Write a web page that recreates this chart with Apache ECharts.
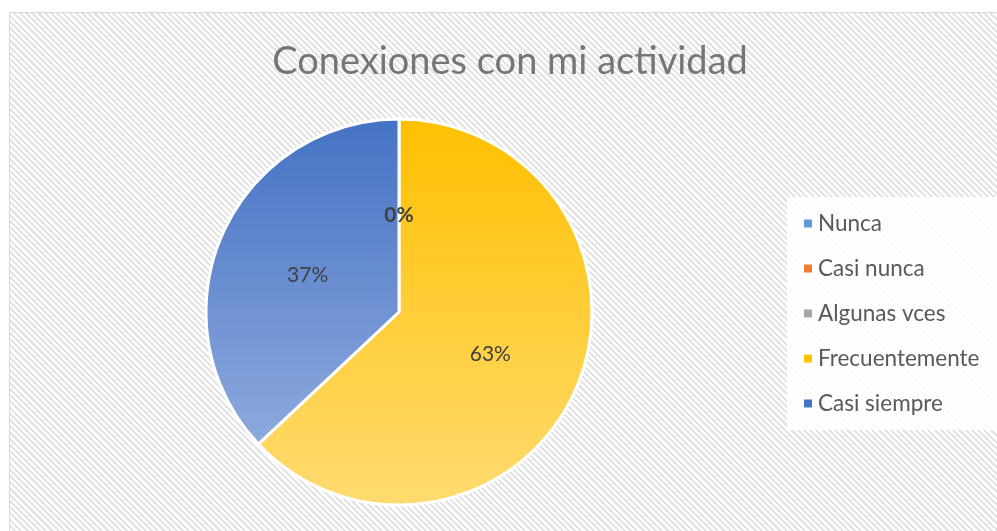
<!DOCTYPE html>
<html>
<head>
<meta charset="utf-8">
<script src="https://cdn.jsdelivr.net/npm/echarts@6/dist/echarts.min.js"></script>
<style>
html, body {
  margin: 0;
  padding: 0;
  background: #ffffff;
}
#frame {
  position: absolute;
  left: 9px;
  top: 12px;
  width: 1000px;
  height: 530px;
  border: 1px solid #d9d9d9;
  background: repeating-linear-gradient(45deg, #ffffff 0px, #ffffff 2.2px, #e4e4e4 2.2px, #e4e4e4 4.4px);
}
#main {
  position: absolute;
  left: 0;
  top: 0;
  width: 997px;
  height: 531px;
}
</style>
</head>
<body>
<div id="frame"></div>
<div id="main"></div>
<script>
// datos del grafico
const categories = ["Nunca", "Casi nunca", "Algunas vces", "Frecuentemente", "Casi siempre"];
const values = [0, 0, 0, 63, 37];
const colors = ["#5b9bd5", "#ed7d31", "#a5a5a5", "#ffc000", "#4472c4"];
const lightColors = ["#9dc3e6", "#f4b183", "#c9c9c9", "#ffdb70", "#9bb4e2"];

const cx = 399, cy = 312, r = 193;

function grad(i) {
  // degradado vertical sobre todo el circulo
  return new echarts.graphic.LinearGradient(0, cy - r, 0, cy + r, [
    { offset: 0, color: colors[i] },
    { offset: 1, color: lightColors[i] }
  ], true);
}

let chart = echarts.init(document.getElementById("main"));
chart.setOption({
  backgroundColor: "transparent",
  animation: false,
  title: {
    text: "Conexiones con mi actividad",
    left: 505,
    top: 38,
    textAlign: "center",
    textStyle: {
      fontFamily: "Lato",
      fontWeight: "normal",
      fontSize: 38,
      color: "#767676"
    }
  },
  legend: {
    orient: "vertical",
    left: 787,
    top: 197,
    padding: [15, 30, 15, 15],
    backgroundColor: "rgba(255,255,255,0.88)",
    itemWidth: 10,
    itemHeight: 10,
    itemGap: 22,
    icon: "rect",
    textStyle: {
      fontFamily: "Lato",
      fontSize: 22.5,
      color: "#595959"
    },
    data: categories.map((name, i) => ({
      name: name,
      itemStyle: { color: colors[i] }
    }))
  },
  series: [
    {
      type: "pie",
      center: [cx, cy],
      radius: r,
      startAngle: 90,
      clockwise: true,
      avoidLabelOverlap: false,
      label: {
        show: true,
        position: "inside",
        formatter: "{d}%",
        fontFamily: "Lato",
        fontSize: 21,
        color: "#404040",
        offset: [0, 3]
      },
      labelLine: { show: false },
      itemStyle: {
        borderColor: "#ffffff",
        borderWidth: 3
      },
      data: categories.map((name, i) => ({
        name: name,
        value: values[i],
        itemStyle: { color: grad(i) },
        label: values[i] === 0 ? { fontWeight: "bold" } : {}
      }))
    }
  ]
});
</script>
</body>
</html>
